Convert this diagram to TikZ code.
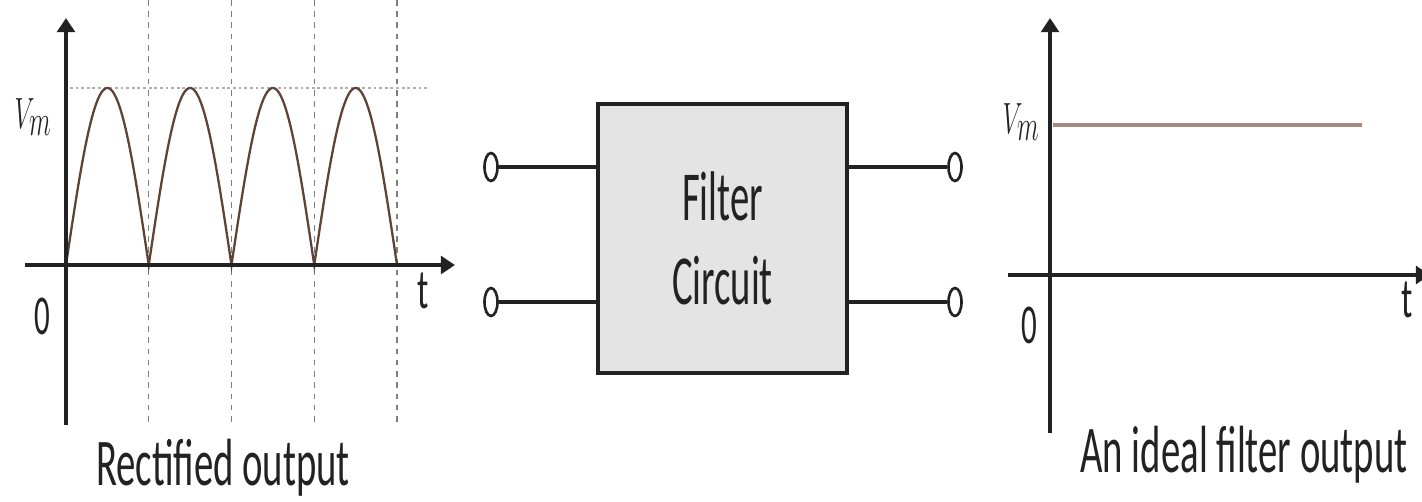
\documentclass[tikz,border=0pt]{standalone}
\usepackage{fontspec}
\setmainfont{Carlito}
\usepackage{graphicx}
\usepackage{tikz}
\usetikzlibrary{positioning, arrows.meta, shapes.geometric, calc}
\definecolor{ink}{HTML}{222222}
\definecolor{wavec}{HTML}{5E4436}
\definecolor{dcline}{HTML}{A38C7E}
\definecolor{guidec}{HTML}{7E7E7E}
\definecolor{peakc}{HTML}{B0B0B0}
\definecolor{boxfill}{HTML}{E4E4E4}
\newcommand{\squeeze}[2]{\scalebox{#1}[1]{#2}}
\tikzset{
  axis/.style      = {-{Triangle[length=8pt,width=10pt]}, line width=2.1pt, draw=ink},
  wave/.style      = {line width=1.3pt, draw=wavec},
  guide/.style     = {line width=0.8pt, draw=guidec, dash pattern=on 3.2pt off 3.2pt},
  peak/.style      = {line width=1.1pt, draw=peakc, dash pattern=on 1.6pt off 1.6pt},
  dcout/.style     = {line width=2.8pt, draw=dcline},
  filterbox/.style = {rectangle, draw=ink, line width=2.1pt, fill=boxfill,
                      minimum width=4.98cm, minimum height=5.38cm,
                      align=center, text=ink, font=\fontsize{40}{48}\selectfont},
  term/.style      = {ellipse, draw=ink, line width=1.5pt, fill=white,
                      minimum width=0.26cm, minimum height=0.56cm, inner sep=0pt},
  wire/.style      = {line width=2pt, draw=ink},
  caption/.style   = {anchor=base, inner sep=0pt, text=ink, font=\fontsize{38}{44}\selectfont},
  tick/.style      = {inner sep=0pt, text=ink, font=\fontsize{32}{36}\selectfont},
  vlbl/.style      = {inner sep=0pt, text=ink, font=\fontsize{42}{46}\selectfont},
}

\begin{document}
\begin{tikzpicture}[x=0.02cm, y=-0.02cm]
  \useasboundingbox (0,0) rectangle (1422,501);

  % rectified output
  \coordinate (ybot1) at (66,425);
  \coordinate (ytop1) at (66,18);
  \coordinate (xlft1) at (25,265);
  \coordinate (xrgt1) at (455,265);
  \foreach \k in {1,...,4}
    \draw[guide] ({66+82.75*\k},0) -- ({66+82.75*\k},425);
  \draw[peak] (70,88) -- (428,88);
  \draw[wave] plot[domain=66:397, samples=401] (\x, {265-177*abs(sin((\x-66)*2.17523))});
  \draw[axis] (ybot1) -- (ytop1);
  \draw[axis] (xlft1) -- (xrgt1);
  \node[vlbl] (vm1) at (33,117) {\squeeze{0.58}{$V_m$}};
  \node[tick] (zero1) at (42,316) {\squeeze{0.55}{0}};
  \node[tick] (t1) at (423,291) {\squeeze{0.6}{t}};
  \node[caption] (cap1) at (223,485) {\squeeze{0.58}{Rectified output}};

  % filter block
  \node[filterbox] (flt) at (722.5,238.5) {\squeeze{0.55}{Filter}\\\squeeze{0.55}{Circuit}};
  \node[term] (inA) at (491,167) {};
  \node[term] (inB) at (491,302) {};
  \node[term] (outA) at (955,167) {};
  \node[term] (outB) at (955,302) {};
  \draw[wire] (inA) -- (inA -| flt.west);
  \draw[wire] (inB) -- (inB -| flt.west);
  \draw[wire] (outA -| flt.east) -- (outA);
  \draw[wire] (outB -| flt.east) -- (outB);

  % ideal filter output
  \coordinate (ybot2) at (1050,433);
  \coordinate (ytop2) at (1050,18);
  \coordinate (xlft2) at (1008,275);
  \coordinate (xrgt2) at (1430,275);
  \coordinate (dcl) at (1053,125);
  \coordinate (dcr) at (1362,125);
  \draw[dcout] (dcl) -- (dcr);
  \draw[axis] (ybot2) -- (ytop2);
  \draw[axis] (xlft2) -- (xrgt2);
  \node[vlbl] (vm2) at (1021,122) {\squeeze{0.58}{$V_m$}};
  \node[tick] (zero2) at (1029,325) {\squeeze{0.55}{0}};
  \node[tick] (t2) at (1407,300) {\squeeze{0.6}{t}};
  \node[caption] (cap2) at (1244,472) {\squeeze{0.58}{An ideal filter output}};
\end{tikzpicture}
\end{document}
